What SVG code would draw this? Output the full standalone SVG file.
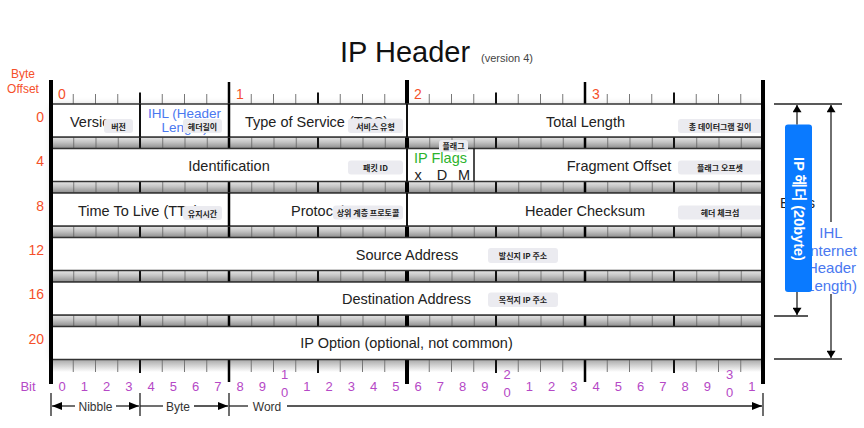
<svg xmlns="http://www.w3.org/2000/svg" xmlns:xlink="http://www.w3.org/1999/xlink" width="864" height="428" viewBox="0 0 864 428">
<style>
text{font-family:"Liberation Sans","Noto Sans CJK KR",sans-serif;}
.t{font-size:14.5px;fill:#222;}
.c{text-anchor:middle;}
.off{font-size:14px;fill:#f5502a;}
.bit{font-size:13px;fill:#b548c6;text-anchor:middle;}
.ihl{font-size:13.5px;fill:#4a78f0;}
.bdg{fill:#ebebf0;}
.bt{font-family:"Noto Sans CJK KR","Liberation Sans",sans-serif;font-size:8px;font-weight:700;fill:#222;text-anchor:middle;}
.row{fill:#fff;stroke:#333;stroke-width:1.5;}
.sep{stroke:#111;stroke-width:2;}
.tk{stroke:#777;stroke-width:1;}
.nb{stroke:#111;stroke-width:2;}
.by{stroke:#000;stroke-width:2.5;}
.wd{stroke:#000;stroke-width:4;}
.ln{stroke:#222;stroke-width:1.3;fill:none;}
.lbl{font-size:12px;fill:#333;text-anchor:middle;}
</style>
<defs>
<linearGradient id="band" x1="0" y1="0" x2="0" y2="1">
<stop offset="0" stop-color="#e6e6e6"/>
<stop offset="0.45" stop-color="#c4c4c4"/>
<stop offset="1" stop-color="#8c8c8c"/>
</linearGradient>
<linearGradient id="rul" x1="0" y1="0" x2="0" y2="1">
<stop offset="0" stop-color="#a8a8a8"/>
<stop offset="1" stop-color="#ffffff"/>
</linearGradient>
<pattern id="bits" x="51" y="0" width="22.25" height="428" patternUnits="userSpaceOnUse">
<rect x="0" y="0" width="1" height="428" fill="#555"/>
</pattern>
<filter id="sh" x="-10%" y="-10%" width="120%" height="120%">
<feGaussianBlur stdDeviation="3"/>
</filter>
<g id="majors">
<line class="nb" x1="140" y1="0" x2="140" y2="11.5"/>
<line class="by" x1="229" y1="0" x2="229" y2="11.5"/>
<line class="nb" x1="318" y1="0" x2="318" y2="11.5"/>
<line class="wd" x1="407" y1="0" x2="407" y2="11.5"/>
<line class="nb" x1="496" y1="0" x2="496" y2="11.5"/>
<line class="by" x1="585" y1="0" x2="585" y2="11.5"/>
<line class="nb" x1="674" y1="0" x2="674" y2="11.5"/>
</g>
<marker id="ah" viewBox="0 0 10 8" refX="10" refY="4" markerWidth="10" markerHeight="8" markerUnits="userSpaceOnUse" orient="auto-start-reverse">
<path d="M0,0 L10,4 L0,8 Z" fill="#000"/>
</marker>
<marker id="ah2" viewBox="0 0 9 11" refX="9" refY="5.5" markerWidth="11" markerHeight="9" markerUnits="userSpaceOnUse" orient="auto">
<path d="M0,0 L9,5.5 L0,11 Z" fill="#000"/>
</marker>
</defs>

<rect width="864" height="428" fill="#fff"/>

<g id="title">
<text x="340" y="62" style="font-size:29px;fill:#111">IP Header</text>
<text x="481" y="62" style="font-size:11px;fill:#444">(version 4)</text>
</g>

<g id="byte-offset-labels">
<text x="23" y="78" class="c" style="font-size:12px;fill:#f5502a">Byte</text>
<text x="23" y="93" class="c" style="font-size:12px;fill:#f5502a">Offset</text>
<text x="44" y="122" class="off" text-anchor="end">0</text>
<text x="44" y="166" class="off" text-anchor="end">4</text>
<text x="44" y="211" class="off" text-anchor="end">8</text>
<text x="44" y="255" class="off" text-anchor="end">12</text>
<text x="44" y="299" class="off" text-anchor="end">16</text>
<text x="44" y="344" class="off" text-anchor="end">20</text>
<text x="58" y="99" class="off">0</text>
<text x="236" y="99" class="off">1</text>
<text x="414" y="99" class="off">2</text>
<text x="592" y="99" class="off">3</text>
</g>

<rect x="51" y="104" width="712" height="255.5" fill="#888" opacity="0.35" filter="url(#sh)"/>

<g id="ruler-top">
<path class="tk" d="M73.25,94V104M95.5,94V104M117.75,94V104M162.25,94V104M184.5,94V104M206.75,94V104M251.25,94V104M273.5,94V104M295.75,94V104M340.25,94V104M362.5,94V104M384.75,94V104M429.25,94V104M451.5,94V104M473.75,94V104M518.25,94V104M540.5,94V104M562.75,94V104M607.25,94V104M629.5,94V104M651.75,94V104M696.25,94V104M718.5,94V104M740.75,94V104"/>
<path class="nb" d="M140,92.5V104M318,92.5V104M496,92.5V104M674,92.5V104"/>
<path class="by" d="M229,82V104M585,82V104"/>
<path class="wd" d="M407,80V104"/>
</g>

<g id="bands">
<rect x="51" y="137" width="712" height="11.5" fill="url(#band)" stroke="#333" stroke-width="1"/>
<rect x="51" y="181.5" width="712" height="11.5" fill="url(#band)" stroke="#333" stroke-width="1"/>
<rect x="51" y="226" width="712" height="11.5" fill="url(#band)" stroke="#333" stroke-width="1"/>
<rect x="51" y="270.5" width="712" height="11.5" fill="url(#band)" stroke="#333" stroke-width="1"/>
<rect x="51" y="315" width="712" height="11.5" fill="url(#band)" stroke="#333" stroke-width="1"/>
<rect x="51" y="137" width="712" height="11.5" fill="url(#bits)" opacity="0.7"/>
<rect x="51" y="181.5" width="712" height="11.5" fill="url(#bits)" opacity="0.7"/>
<rect x="51" y="226" width="712" height="11.5" fill="url(#bits)" opacity="0.7"/>
<rect x="51" y="270.5" width="712" height="11.5" fill="url(#bits)" opacity="0.7"/>
<rect x="51" y="315" width="712" height="11.5" fill="url(#bits)" opacity="0.7"/>
<use href="#majors" y="137"/>
<use href="#majors" y="181.5"/>
<use href="#majors" y="226"/>
<use href="#majors" y="270.5"/>
<use href="#majors" y="315"/>
</g>

<g id="ruler-bottom">
<rect x="51" y="359.5" width="712" height="12.5" fill="url(#rul)"/>
<path class="tk" d="M73.25,359.5V372M95.5,359.5V372M117.75,359.5V372M162.25,359.5V372M184.5,359.5V372M206.75,359.5V372M251.25,359.5V372M273.5,359.5V372M295.75,359.5V372M340.25,359.5V372M362.5,359.5V372M384.75,359.5V372M429.25,359.5V372M451.5,359.5V372M473.75,359.5V372M518.25,359.5V372M540.5,359.5V372M562.75,359.5V372M607.25,359.5V372M629.5,359.5V372M651.75,359.5V372M696.25,359.5V372M718.5,359.5V372M740.75,359.5V372"/>
<path class="nb" d="M140,359.5V373M318,359.5V373M496,359.5V373M674,359.5V373"/>
<path class="by" d="M229,359.5V382M585,359.5V382"/>
<path class="wd" d="M407,359.5V384"/>
<text x="28" y="391" class="bit">Bit</text>
<text x="62.1" y="391" class="bit">0</text>
<text x="84.4" y="391" class="bit">1</text>
<text x="106.6" y="391" class="bit">2</text>
<text x="128.9" y="391" class="bit">3</text>
<text x="151.1" y="391" class="bit">4</text>
<text x="173.4" y="391" class="bit">5</text>
<text x="195.6" y="391" class="bit">6</text>
<text x="217.9" y="391" class="bit">7</text>
<text x="240.1" y="391" class="bit">8</text>
<text x="262.4" y="391" class="bit">9</text>
<text x="284.6" y="379" class="bit">1</text>
<text x="284.6" y="397" class="bit">0</text>
<text x="306.9" y="391" class="bit">1</text>
<text x="329.1" y="391" class="bit">2</text>
<text x="351.4" y="391" class="bit">3</text>
<text x="373.6" y="391" class="bit">4</text>
<text x="395.9" y="391" class="bit">5</text>
<text x="418.1" y="391" class="bit">6</text>
<text x="440.4" y="391" class="bit">7</text>
<text x="462.6" y="391" class="bit">8</text>
<text x="484.9" y="391" class="bit">9</text>
<text x="507.1" y="379" class="bit">2</text>
<text x="507.1" y="397" class="bit">0</text>
<text x="529.4" y="391" class="bit">1</text>
<text x="551.6" y="391" class="bit">2</text>
<text x="573.9" y="391" class="bit">3</text>
<text x="596.1" y="391" class="bit">4</text>
<text x="618.4" y="391" class="bit">5</text>
<text x="640.6" y="391" class="bit">6</text>
<text x="662.9" y="391" class="bit">7</text>
<text x="685.1" y="391" class="bit">8</text>
<text x="707.4" y="391" class="bit">9</text>
<text x="729.6" y="379" class="bit">3</text>
<text x="729.6" y="397" class="bit">0</text>
<text x="751.9" y="391" class="bit">1</text>
</g>

<g id="row-0">
<rect class="row" x="51" y="104" width="712" height="33"/>
<line class="sep" x1="140" y1="104" x2="140" y2="137"/>
<line class="by" x1="229" y1="104" x2="229" y2="137"/>
<line class="sep" x1="407" y1="104" x2="407" y2="137"/>
</g>
<g id="version">
<text x="70" y="127" class="t">Version</text>
<rect class="bdg" x="104" y="119" width="29" height="14" rx="3"/>
<text x="118.5" y="129.5" class="bt">버전</text>
</g>
<g id="ihl">
<text x="184.5" y="118" class="ihl c">IHL (Header</text>
<text x="184.5" y="131.5" class="ihl c">Length)</text>
<rect class="bdg" x="183" y="119" width="39" height="14" rx="3"/>
<text x="202.5" y="129.5" class="bt">헤더길이</text>
</g>
<g id="tos">
<text x="245" y="127" class="t">Type of Service (TOS)</text>
<rect class="bdg" x="348" y="118.5" width="55" height="14.5" rx="3"/>
<text x="375.5" y="129.5" class="bt">서비스 유형</text>
</g>
<g id="total-length">
<text x="585.5" y="127" class="t c">Total Length</text>
<rect class="bdg" x="678" y="119" width="84" height="14" rx="3"/>
<text x="720" y="129.5" class="bt">총 데이터그램 길이</text>
</g>

<g id="row-4">
<rect class="row" x="51" y="148.5" width="712" height="33"/>
<line class="sep" x1="407" y1="148.5" x2="407" y2="181.5"/>
<line class="sep" x1="474" y1="148.5" x2="474" y2="181.5" style="stroke-width:1.5"/>
</g>
<g id="identification">
<text x="229" y="171" class="t c">Identification</text>
<rect class="bdg" x="348" y="160.5" width="55" height="14" rx="3"/>
<text x="375.5" y="171" class="bt">패킷 ID</text>
</g>
<g id="ip-flags">
<text x="440.5" y="162.5" class="c" style="font-size:14.5px;fill:#2db32d">IP Flags</text>
<text x="418" y="179.5" class="t c">x</text>
<text x="442" y="179.5" class="t c">D</text>
<text x="464" y="179.5" class="t c">M</text>
<rect class="bdg" x="439" y="140" width="29" height="12" rx="3"/>
<text x="453.5" y="149.3" class="bt">플래그</text>
</g>
<g id="fragment-offset">
<text x="619" y="171" class="t c">Fragment Offset</text>
<rect class="bdg" x="678" y="160.5" width="84" height="14" rx="3"/>
<text x="720" y="171" class="bt">플래그 오프셋</text>
</g>

<g id="row-8">
<rect class="row" x="51" y="193" width="712" height="33"/>
<line class="by" x1="229" y1="193" x2="229" y2="226"/>
<line class="sep" x1="407" y1="193" x2="407" y2="226"/>
</g>
<g id="ttl">
<text x="78" y="216" class="t">Time To Live (TTL)</text>
<rect class="bdg" x="183" y="206" width="39" height="14" rx="3"/>
<text x="202.5" y="216.5" class="bt">유지시간</text>
</g>
<g id="protocol">
<text x="291" y="216" class="t">Protocol</text>
<rect class="bdg" x="333" y="205.5" width="70" height="14" rx="3"/>
<text x="368" y="216" class="bt">상위 계층 프로토콜</text>
</g>
<g id="header-checksum">
<text x="585" y="216" class="t c">Header Checksum</text>
<rect class="bdg" x="678" y="205.5" width="84" height="14" rx="3"/>
<text x="720" y="216" class="bt">헤더 체크섬</text>
</g>

<g id="source-address">
<rect class="row" x="51" y="237.5" width="712" height="33"/>
<text x="407" y="260" class="t c">Source Address</text>
<rect class="bdg" x="488" y="248" width="70" height="15" rx="3"/>
<text x="523" y="258.8" class="bt">발신지 IP 주소</text>
</g>

<g id="destination-address">
<rect class="row" x="51" y="282" width="712" height="33"/>
<text x="406.5" y="304" class="t c">Destination Address</text>
<rect class="bdg" x="488" y="292.5" width="70" height="14.5" rx="3"/>
<text x="523" y="303" class="bt">목적지 IP 주소</text>
</g>

<g id="ip-option">
<rect class="row" x="51" y="326.5" width="712" height="33"/>
<text x="406.5" y="348" class="t c">IP Option (optional, not common)</text>
</g>

<g id="frame">
<line x1="51" y1="80" x2="51" y2="384" stroke="#000" stroke-width="4"/>
<line x1="763" y1="80" x2="763" y2="384" stroke="#000" stroke-width="4"/>
</g>

<g id="ihl-label">
<text x="780" y="208" style="font-size:14px;fill:#222">Bytes</text>
<text x="831" y="237.5" class="c" style="font-size:15px;fill:#4a78f0">IHL</text>
<text x="831.5" y="255.5" class="c" style="font-size:15px;fill:#4a78f0">Internet</text>
<text x="831.5" y="273" class="c" style="font-size:15px;fill:#4a78f0">Header</text>
<text x="831.5" y="290.5" class="c" style="font-size:15px;fill:#4a78f0">Length)</text>
</g>

<g id="ip-header-size">
<rect x="785" y="124.5" width="27" height="167.5" rx="3" fill="#0a7aff"/>
<text transform="translate(798.5,209) rotate(90)" text-anchor="middle" dominant-baseline="central" style="font-size:14.5px;font-weight:700;fill:#fff">IP 헤더 (20byte)</text>
</g>

<g id="connectors">
<line class="ln" x1="774" y1="104" x2="842" y2="104"/>
<line class="ln" x1="774" y1="359" x2="842" y2="359"/>
<line class="ln" x1="774" y1="316" x2="808" y2="316"/>
<line class="ln" x1="797" y1="124.5" x2="797" y2="105" marker-end="url(#ah2)"/>
<line class="ln" x1="797" y1="292" x2="797" y2="315" marker-end="url(#ah2)"/>
<line class="ln" x1="831" y1="222" x2="831" y2="105" marker-end="url(#ah2)"/>
<line class="ln" x1="831" y1="294" x2="831" y2="358" marker-end="url(#ah2)"/>
<path class="ln" d="M51,393V416M140,393V416M229,393V416M763,393V416"/>
<line class="ln" x1="75" y1="406" x2="52" y2="406" marker-end="url(#ah)"/>
<line class="ln" x1="116" y1="406" x2="139" y2="406" marker-end="url(#ah)"/>
<line class="ln" x1="140" y1="406" x2="163" y2="406"/>
<line class="ln" x1="194" y1="406" x2="228" y2="406" marker-end="url(#ah)"/>
<line class="ln" x1="229" y1="406" x2="248" y2="406"/>
<line class="ln" x1="287" y1="406" x2="762" y2="406" marker-end="url(#ah)"/>
</g>
<g id="bracket-labels">
<text x="95.5" y="411" class="lbl">Nibble</text>
<text x="178" y="411" class="lbl">Byte</text>
<text x="267" y="411" class="lbl">Word</text>
</g>
</svg>
